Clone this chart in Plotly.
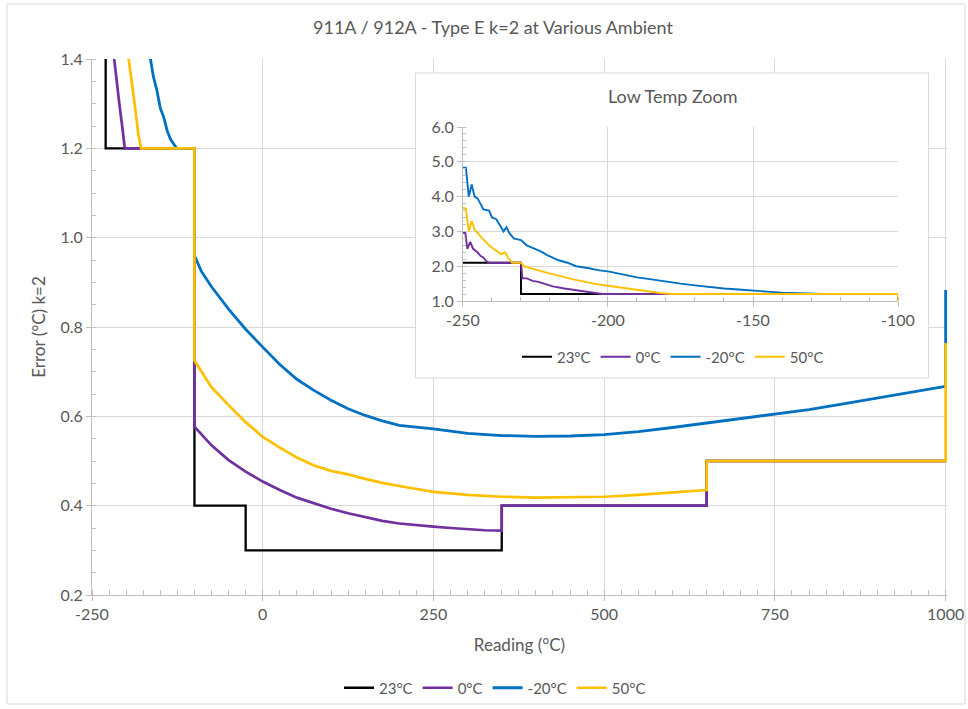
import plotly.graph_objects as go

# ---- data (Reading °C -> Error °C, k=2) ----
x_23 = [-250, -230, -230, -100, -100, -25, -25, 350, 350, 650, 650, 1000]
y_23 = [2.1, 2.1, 1.2, 1.2, 0.4, 0.4, 0.3, 0.3, 0.4, 0.4, 0.5, 0.5]

x_0 = [-250, -249.2, -248.5, -247.5, -246.5, -245, -244, -243, -242, -241, -230,
       -229.5, -228, -226, -224, -222, -219, -215, -210, -205, -202, -100,
       -100, -90, -75, -50, -25, 0, 25, 50, 75, 100, 125, 150, 175, 200, 225,
       250, 275, 300, 325, 350, 350, 650, 650, 1000]
y_0 = [2.96, 2.96, 2.5, 2.7, 2.5, 2.4, 2.3, 2.25, 2.15, 2.1, 2.1,
       1.65, 1.65, 1.58, 1.55, 1.5, 1.42, 1.36, 1.3, 1.24, 1.2, 1.2,
       0.577, 0.56, 0.535, 0.502, 0.476, 0.454, 0.435, 0.418, 0.405, 0.393, 0.383,
       0.374, 0.366, 0.36, 0.356, 0.353, 0.35, 0.347, 0.345, 0.344, 0.4, 0.4, 0.5, 0.5]

x_m20 = [-250, -249, -248, -247, -246, -245, -244, -243, -241, -240, -238.5, -237,
         -236, -235, -234, -232.5, -230, -228, -225, -223, -221, -219, -217, -214,
         -211, -207, -203, -200, -195, -190, -185, -180, -175, -170, -165, -160,
         -155, -150, -145, -140, -135, -130, -126, -100,
         -100, -90, -75, -50, -25, 0, 25, 50, 75, 100, 125, 150, 175, 200, 250,
         300, 350, 400, 450, 500, 550, 600, 650, 700, 750, 800, 850, 900, 950,
         1000, 1000]
y_m20 = [4.83, 4.83, 4.0, 4.35, 4.0, 3.95, 3.8, 3.63, 3.6, 3.4, 3.35, 3.15,
         3.0, 3.12, 2.95, 2.8, 2.75, 2.6, 2.5, 2.42, 2.32, 2.25, 2.17, 2.1,
         2.0, 1.95, 1.88, 1.85, 1.76, 1.68, 1.62, 1.55, 1.5, 1.45, 1.4, 1.36,
         1.33, 1.29, 1.27, 1.24, 1.22, 1.21, 1.2, 1.2,
         0.96, 0.925, 0.89, 0.84, 0.795, 0.755, 0.716, 0.683, 0.658, 0.636, 0.617,
         0.602, 0.59, 0.58, 0.572, 0.562, 0.557, 0.555, 0.556, 0.559, 0.566, 0.575,
         0.585, 0.595, 0.604, 0.615, 0.628, 0.641, 0.655, 0.667, 0.883]

x_50 = [-250, -249, -248, -247, -246, -244, -243, -241, -240, -238, -237, -235.5,
        -234.5, -233, -230, -229, -227, -225, -223, -221, -218, -215, -212, -209,
        -205, -200, -196, -191, -186, -182, -178, -100,
        -100, -90, -82, -75, -50, -25, 0, 25, 50, 75, 100, 125, 150, 175, 200,
        250, 300, 350, 400, 450, 500, 550, 600, 650, 650, 1000, 1000]
y_50 = [3.68, 3.65, 3.0, 3.3, 3.05, 2.85, 2.77, 2.6, 2.53, 2.42, 2.34, 2.4,
        2.25, 2.1, 2.1, 2.0, 1.95, 1.9, 1.85, 1.81, 1.75, 1.68, 1.62, 1.57,
        1.5, 1.44, 1.39, 1.34, 1.28, 1.23, 1.2, 1.2,
        0.725, 0.7, 0.681, 0.665, 0.625, 0.587, 0.554, 0.53, 0.508, 0.49, 0.478,
        0.47, 0.46, 0.451, 0.444, 0.431, 0.424, 0.42, 0.418, 0.419, 0.42, 0.424,
        0.429, 0.435, 0.5, 0.5, 0.764]

main_xticks = [-250, 0, 250, 500, 750, 1000]
main_xlabels = ["-250", "0", "250", "500", "750", "1000"]
inset_xticks = [-250, -200, -150, -100]
inset_xlabels = ["-250", "-200", "-150", "-100"]

SERIES = [
    ("23°C", x_23, y_23, "#000000", 2.3),
    ("0°C", x_0, y_0, "#7030A0", 2.7),
    ("-20°C", x_m20, y_m20, "#0070C0", 2.8),
    ("50°C", x_50, y_50, "#FFC000", 2.7),
]

TXT = "#595959"
GRID = "#D9D9D9"
AXLINE = "#BFBFBF"
FONT = "Lato, Open Sans, sans-serif"

fig = go.Figure()
for name, xs, ys, col, w in SERIES:
    fig.add_trace(go.Scatter(x=xs, y=ys, name=name, mode="lines",
                             line=dict(color=col, width=w), legend="legend",
                             xaxis="x", yaxis="y"))
for name, xs, ys, col, w in SERIES:
    fig.add_trace(go.Scatter(x=xs, y=ys, name=name, mode="lines",
                             line=dict(color=col, width=1.9), legend="legend2",
                             xaxis="x2", yaxis="y2"))

axis_common = dict(showline=True, linecolor=AXLINE, linewidth=1, showgrid=True,
                   gridcolor=GRID, gridwidth=1, zeroline=False, ticks="outside",
                   ticklen=5, tickcolor=AXLINE, tickfont=dict(size=16, color=TXT),
                   automargin=False)

fig.update_layout(
    width=968, height=709,
    paper_bgcolor="white", plot_bgcolor="white",
    font=dict(family=FONT, color=TXT),
    margin=dict(l=92, r=21, t=59, b=114),
    title=dict(text="911A / 912A - Type E k=2 at Various Ambient", x=493 / 968,
               xanchor="center", y=1 - 28 / 709, yanchor="middle",
               font=dict(size=18, color=TXT)),
    xaxis=dict(axis_common, range=[-250, 1002], tickvals=main_xticks, ticktext=main_xlabels,
               minor=dict(dtick=25, tick0=0, ticks="inside", ticklen=5, tickcolor=AXLINE,
                          showgrid=False),
               title=dict(text="Reading (°C)", font=dict(size=17, color=TXT), standoff=16),
               domain=[0, 1], anchor="y"),
    yaxis=dict(axis_common, range=[0.2, 1.4], dtick=0.2, tickformat=".1f",
               minor=dict(dtick=0.05, tick0=0, ticks="inside", ticklen=4, tickcolor=AXLINE,
                          showgrid=False),
               title=dict(text="Error (°C) k=2", font=dict(size=17, color=TXT), standoff=10),
               domain=[0, 1], anchor="x"),
    xaxis2=dict(axis_common, range=[-250, -100], tickvals=inset_xticks, ticktext=inset_xlabels,
                minor=dict(dtick=10, ticks="inside", ticklen=4, tickcolor=AXLINE,
                           showgrid=False),
                domain=[0.4339, 0.9427], anchor="y2"),
    yaxis2=dict(axis_common, range=[1, 6], dtick=1, tickformat=".1f",
                minor=dict(dtick=0.2, ticks="inside", ticklen=3, tickcolor=AXLINE,
                           showgrid=False),
                domain=[0.5485, 0.8731], anchor="x2"),
    legend=dict(orientation="h", xref="container", yref="container",
                x=495 / 968, xanchor="center", y=1 - 688 / 709, yanchor="middle",
                font=dict(size=15, color=TXT), bgcolor="rgba(0,0,0,0)"),
    legend2=dict(orientation="h", x=0.6795, xanchor="center", y=0.444, yanchor="middle",
                 font=dict(size=15, color=TXT), bgcolor="rgba(0,0,0,0)"),
    showlegend=True,
    shapes=[
        # white panel behind the inset, above the main grid
        dict(type="rect", xref="x", yref="y", x0=223.7, x1=975, y0=0.6858, y1=1.3687,
             fillcolor="white", line=dict(color=GRID, width=1), layer="between"),
        # chart-area border
        dict(type="rect", xref="paper", yref="paper", x0=-0.0994, x1=1.0211,
             y0=-0.2034, y1=1.1026, line=dict(color=GRID, width=1), layer="below"),
    ],
    annotations=[
        dict(text="Low Temp Zoom", xref="paper", yref="paper", x=0.6795, y=0.931,
             xanchor="center", yanchor="middle", showarrow=False,
             font=dict(size=18, color=TXT)),
    ],
)

fig.write_html("out.html", config={"displayModeBar": False},
               post_script="document.body.style.margin='0';")
